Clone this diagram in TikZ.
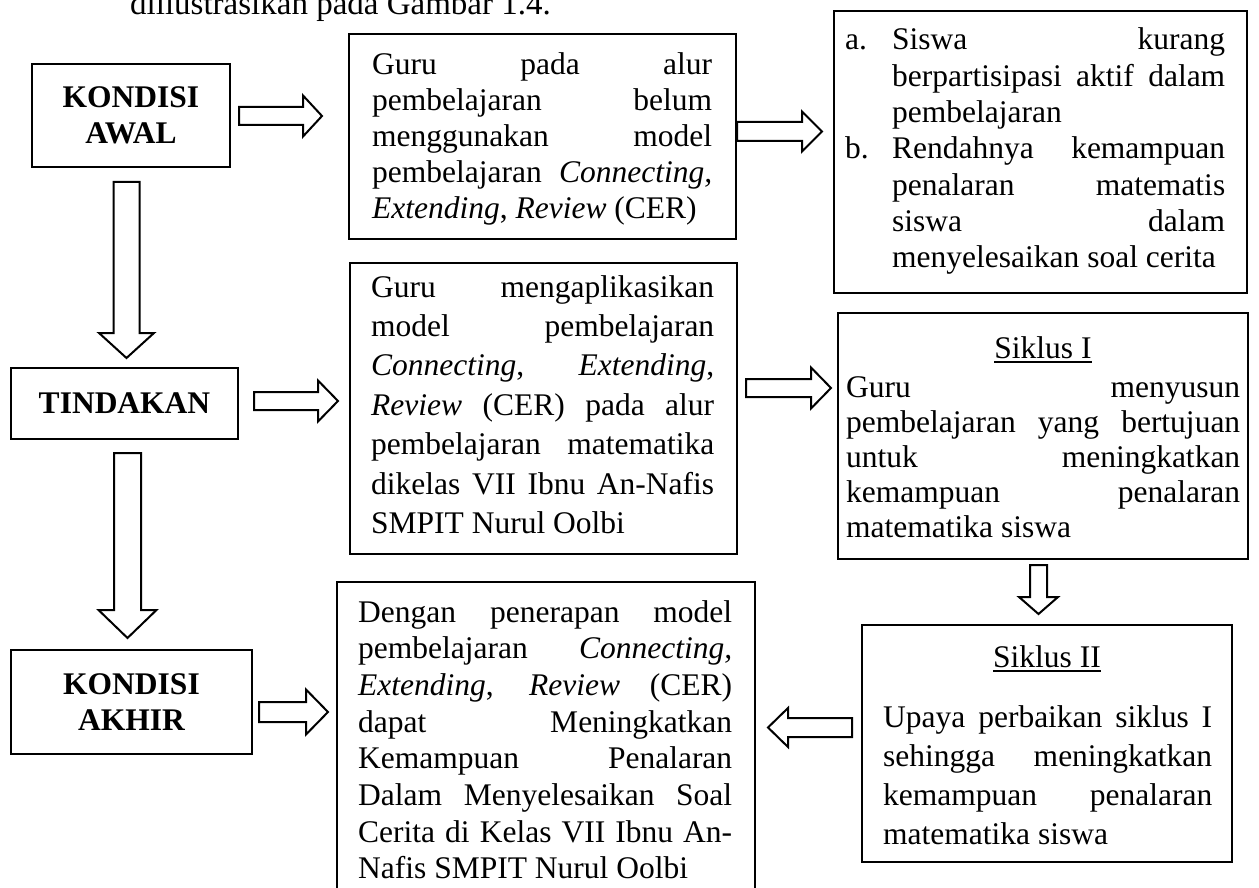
\documentclass[tikz,border=0pt]{standalone}
\usepackage{fontspec}
\setmainfont{Liberation Serif}
\newcommand\jl[2]{\hbox to #1pt{\spaceskip=.25em plus 30em minus .08em\xspaceskip=\spaceskip\relax #2}}
\newcommand\lastl[1]{\hbox{#1}}
\newcommand\myul[1]{\setbox0\hbox{#1}\rlap{\rule[-4.5pt]{\wd0}{1.8pt}}\box0}
\newcommand\rarr[6]{\draw[barrow] (#1,#4-#5) -- (#2,#4-#5) -- (#2,#4-#6) -- (#3,#4) -- (#2,#4+#6) -- (#2,#4+#5) -- (#1,#4+#5) -- cycle;}
\newcommand\darr[6]{\draw[barrow] (#4-#5,#1) -- (#4-#5,#2) -- (#4-#6,#2) -- (#4,#3) -- (#4+#6,#2) -- (#4+#5,#2) -- (#4+#5,#1) -- cycle;}
\tikzset{
  box/.style={draw, line width=2.4pt, inner sep=0pt, rectangle},
  lbox/.style={draw, line width=2.4pt, inner sep=0pt, rectangle, align=center,
    font=\fontsize{31.5}{35.5}\selectfont\bfseries},
  txt/.style={inner sep=0pt, anchor=base west, font=\fontsize{31.5}{36}\selectfont},
  ttl/.style={inner sep=0pt, anchor=base, font=\fontsize{31.5}{36}\selectfont},
  barrow/.style={draw, line width=2pt, fill=white, line join=miter}
}
\begin{document}
\begin{tikzpicture}[x=1pt,y=-1pt]
\useasboundingbox (0,0) rectangle (1259,888);
\fill[white] (0,0) rectangle (1259,888);
\clip (0,0) rectangle (1259,888);

% clipped caption line above the figure
\node[txt, font=\fontsize{33}{36}\selectfont] (cap) at (130,15) {diilustrasikan pada Gambar 1.4.};

% left column
\node[lbox, minimum width=198, minimum height=103] (awal) at (131,115.5) {KONDISI\\AWAL};
\node[lbox, minimum width=227, minimum height=71] (tindakan) at (124.5,403.5) {TINDAKAN};
\node[lbox, minimum width=241, minimum height=104] (akhir) at (131.5,702) {KONDISI\\AKHIR};

% middle and right boxes
\node[box, minimum width=387, minimum height=205] (b2) at (542.5,136.5) {};
\node[box, minimum width=413, minimum height=282] (b3) at (1040.5,152) {};
\node[box, minimum width=387, minimum height=291] (b4) at (543.5,408.5) {};
\node[box, minimum width=410, minimum height=246] (b5) at (1043,436) {};
\node[box, minimum width=370, minimum height=237] (b7) at (1047,743.5) {};
\node[box, minimum width=418, minimum height=330] (b6) at (546,747) {};

% texts
\node[txt] (b2t) at (372,75) {\vtop{\baselineskip=36pt\lineskiplimit=-100pt
  \jl{340}{Guru pada alur}
  \jl{340}{pembelajaran belum}
  \jl{340}{menggunakan model}
  \jl{340}{pembelajaran \textit{Connecting,}}
  \lastl{\textit{Extending}, \textit{Review} (CER)}}};

\node[txt] (b3t) at (845,50) {\vtop{\baselineskip=36.3pt\lineskiplimit=-100pt
  \hbox{\hbox to 47pt{a.\hfil}\jl{333}{Siswa kurang}}
  \hbox{\hbox to 47pt{\hfil}\jl{333}{berpartisipasi aktif dalam}}
  \hbox{\hbox to 47pt{\hfil}\lastl{pembelajaran}}
  \hbox{\hbox to 47pt{b.\hfil}\jl{333}{Rendahnya kemampuan}}
  \hbox{\hbox to 47pt{\hfil}\jl{333}{penalaran matematis}}
  \hbox{\hbox to 47pt{\hfil}\jl{333}{siswa dalam}}
  \hbox{\hbox to 47pt{\hfil}\lastl{menyelesaikan soal cerita}}}};

\node[txt] (b4t) at (371,297) {\vtop{\baselineskip=39.4pt\lineskiplimit=-100pt
  \jl{343}{Guru mengaplikasikan}
  \jl{343}{model pembelajaran}
  \jl{343}{\textit{Connecting}, \textit{Extending},}
  \jl{343}{\textit{Review} (CER) pada alur}
  \jl{343}{pembelajaran matematika}
  \jl{343}{dikelas VII Ibnu An-Nafis}
  \lastl{SMPIT Nurul Oolbi}}};

\node[ttl] (b5h) at (1043,358) {\myul{Siklus I}};
\node[txt] (b5t) at (846,397) {\vtop{\baselineskip=35pt\lineskiplimit=-100pt
  \jl{394}{Guru menyusun}
  \jl{394}{pembelajaran yang bertujuan}
  \jl{394}{untuk meningkatkan}
  \jl{394}{kemampuan penalaran}
  \lastl{matematika siswa}}};

\node[ttl] (b7h) at (1047,667) {\myul{Siklus II}};
\node[txt] (b7t) at (883,727) {\vtop{\baselineskip=39pt\lineskiplimit=-100pt
  \jl{329}{Upaya perbaikan siklus I}
  \jl{329}{sehingga meningkatkan}
  \jl{329}{kemampuan penalaran}
  \lastl{matematika siswa}}};

\node[txt] (b6t) at (358,622) {\vtop{\baselineskip=36.7pt\lineskiplimit=-100pt
  \jl{374}{Dengan penerapan model}
  \jl{374}{pembelajaran \textit{Connecting,}}
  \jl{374}{\textit{Extending}, \textit{Review} (CER)}
  \jl{374}{dapat Meningkatkan}
  \jl{374}{Kemampuan Penalaran}
  \jl{374}{Dalam Menyelesaikan Soal}
  \jl{374}{Cerita di Kelas VII Ibnu An-}
  \lastl{Nafis SMPIT Nurul Oolbi}}};

% block arrows
\darr{182}{333}{358}{126.5}{13}{27.5}
\darr{453}{610}{638}{127.5}{13.5}{29}
\darr{565}{597}{614}{1038.5}{8.5}{19.5}
\rarr{239}{303}{322}{116}{9}{20.5}
\rarr{737}{802}{822}{131.5}{9.5}{20}
\rarr{254}{318}{338}{401}{9}{20.5}
\rarr{746}{811}{831}{388}{9}{20.5}
\rarr{259}{306}{328}{712}{10}{22.5}
\rarr{852}{788}{768}{727.5}{9.5}{19.5}
\end{tikzpicture}
\end{document}
